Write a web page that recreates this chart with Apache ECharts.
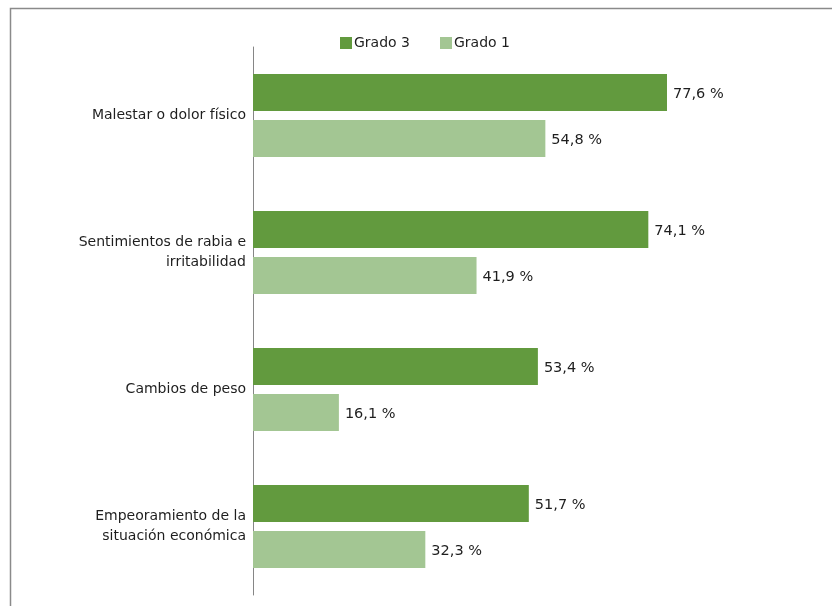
<!DOCTYPE html>
<html>
<head>
<meta charset="utf-8">
<script src="https://cdn.jsdelivr.net/npm/echarts@6/dist/echarts.min.js"></script>
<style>
  html, body { margin: 0; padding: 0; background: #fff; }
  #chart { width: 832px; height: 606px; }
</style>
</head>
<body>
<div id="chart"></div>
<script>
// Categories, top to bottom
const categories = [
  'Malestar o dolor físico',
  'Sentimientos de rabia e\nirritabilidad',
  'Cambios de peso',
  'Empeoramiento de la\nsituación económica'
];
const seriesNames = ['Grado 3', 'Grado 1'];
const grado3 = [77.6, 74.1, 53.4, 51.7];
const grado1 = [54.8, 41.9, 16.1, 32.3];

const colors = ['#629A3E', '#A3C693'];
const fontFamily = '"DejaVu Sans", sans-serif';

function fmt(v) {
  return v.toFixed(1).replace('.', ',') + ' %';
}

const chart = echarts.init(document.getElementById('chart'), null, { renderer: 'canvas' });

const labelStyle = {
  show: true,
  position: 'right',
  distance: 6,
  offset: [0, 2],
  color: '#1e1e1e',
  fontSize: 14.5,
  fontFamily: fontFamily,
  formatter: p => fmt(p.value)
};

chart.setOption({
  animation: false,
  backgroundColor: '#fff',
  graphic: [{
    type: 'rect',
    silent: true,
    shape: { x: 10.5, y: 8.5, width: 900, height: 700 },
    style: { fill: 'none', stroke: '#8a8a8a', lineWidth: 1.5 }
  }],
  legend: {
    top: 31,
    left: 335,
    itemWidth: 12,
    itemHeight: 12,
    itemGap: 30,
    icon: 'rect',
    textStyle: { fontSize: 14, color: '#1e1e1e', fontFamily: fontFamily, padding: [0, 0, 0, -3] },
    data: seriesNames
  },
  grid: { left: 253, top: 47, width: 533.5, height: 548, containLabel: false },
  xAxis: {
    type: 'value',
    min: 0,
    max: 100,
    show: false
  },
  yAxis: {
    type: 'category',
    inverse: true,
    data: categories,
    axisLine: { show: true, lineStyle: { color: '#868686', width: 1 } },
    axisTick: { show: false },
    axisLabel: {
      color: '#1e1e1e',
      fontSize: 14,
      fontFamily: fontFamily,
      lineHeight: 20,
      margin: 7,
      align: 'right'
    }
  },
  series: [
    {
      name: seriesNames[0],
      type: 'bar',
      data: grado3,
      barWidth: 37,
      barGap: '24%',
      itemStyle: { color: colors[0] },
      label: labelStyle
    },
    {
      name: seriesNames[1],
      type: 'bar',
      data: grado1,
      barWidth: 37,
      barGap: '24%',
      itemStyle: { color: colors[1] },
      label: labelStyle
    }
  ]
});
</script>
</body>
</html>
